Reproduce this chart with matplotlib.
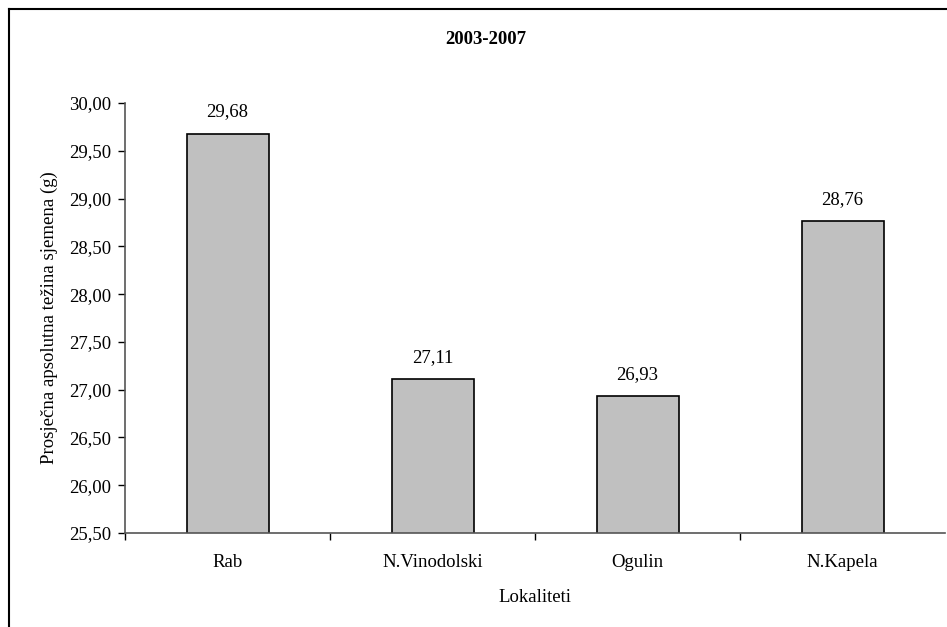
import matplotlib
matplotlib.use("Agg")
import matplotlib.pyplot as plt
from matplotlib.lines import Line2D

categories = ["Rab", "N.Vinodolski", "Ogulin", "N.Kapela"]
values = [29.68, 27.11, 26.93, 28.76]
yticks = [25.5, 26.0, 26.5, 27.0, 27.5, 28.0, 28.5, 29.0, 29.5, 30.0]

plt.rcParams['font.family'] = ['Liberation Serif', 'DejaVu Serif']
FS = 13.5

W, H = 947, 627
fig = plt.figure(figsize=(W / 100, H / 100), dpi=100)
ax = fig.add_axes([125 / W, 1 - 533 / H, (945 - 125) / W, (533 - 103) / H])

x = list(range(len(categories)))
ax.bar(x, values, width=0.4, bottom=0, color="#C0C0C0", edgecolor="black", linewidth=1.2)
ax.set_xlim(-0.5, len(categories) - 0.5)
ax.set_ylim(25.5, 30.0)
ax.set_yticks(yticks)
ax.set_yticklabels([f"{v:.2f}".replace(".", ",") for v in yticks], fontsize=FS)
ax.set_xticks([i + 0.5 for i in range(-1, len(categories) - 1)], minor=False)
ax.set_xticklabels([])
ax.set_xticks(x, minor=True)
ax.set_xticklabels(categories, minor=True, fontsize=FS)
ax.tick_params(axis="x", which="minor", length=0, pad=15)
ax.tick_params(axis="x", which="major", direction="out", length=5, width=1, color="black")
ax.tick_params(axis="y", direction="out", length=5, width=1, color="black", pad=5)

for s in ["top", "right"]:
    ax.spines[s].set_visible(False)
for s in ["left", "bottom"]:
    ax.spines[s].set_color("#555555")
    ax.spines[s].set_linewidth(1.2)

for xi, v in zip(x, values):
    ax.annotate(f"{v:.2f}".replace(".", ","), (xi, v), xytext=(0, 9.5),
                textcoords="offset points", ha="center", va="bottom", fontsize=FS)

ax.set_ylabel("Prosječna apsolutna težina sjemena (g)", fontsize=FS, labelpad=8)
ax.set_xlabel("Lokaliteti", fontsize=FS, labelpad=13)
fig.text(486 / W, 1 - 39 / H, "2003-2007", ha="center", va="center", fontsize=FS, fontweight="bold")

# figure frame (top and left edges)
fig.add_artist(Line2D([9 / W, 946 / W], [1 - 9 / H, 1 - 9 / H], color="black", linewidth=1.5, transform=fig.transFigure))
fig.add_artist(Line2D([9 / W, 9 / W], [1 - 9 / H, 0], color="black", linewidth=1.5, transform=fig.transFigure))

fig.savefig("out.png", dpi=100)
